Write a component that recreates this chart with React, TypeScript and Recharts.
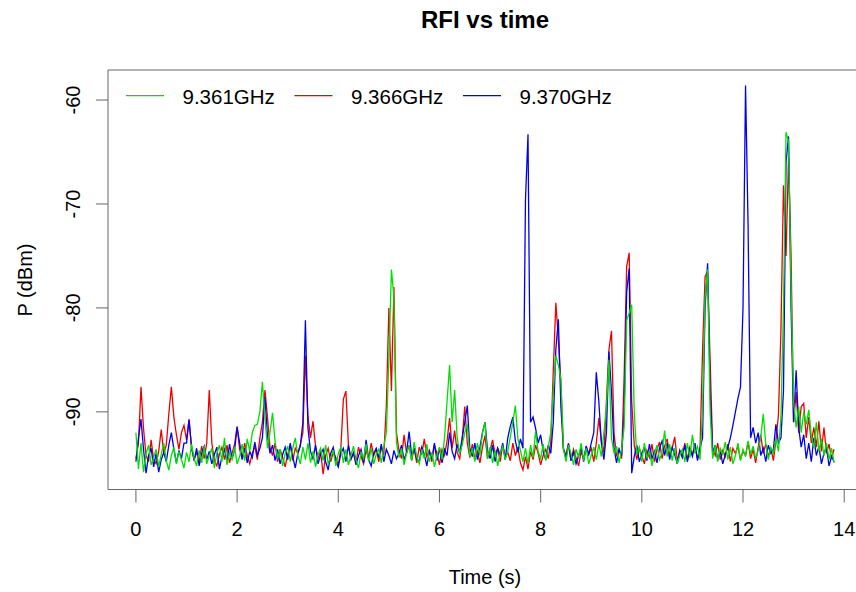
import { LineChart, Line, XAxis, YAxis, ReferenceArea } from 'recharts'

// sampling step of the recording (s)
const STEP = 0.05

// 9.366GHz
const RED = [
  -94.5, -93.0, -87.6, -91.6, -94.2, -94.8, -92.7, -94.6, -95.0, -93.8,
  -91.7, -94.0, -93.2, -90.2, -87.6, -90.5, -92.2, -93.6, -92.0, -91.3,
  -92.7, -90.7, -93.5, -94.6, -93.9, -94.8, -93.3, -94.5, -93.0, -87.9,
  -93.0, -94.7, -95.2, -94.1, -93.4, -94.6, -93.2, -94.9, -94.0, -93.1,
  -91.4, -93.6, -94.5, -93.0, -94.2, -95.0, -94.0, -93.3, -94.6, -92.5,
  -91.0, -87.9, -90.5, -93.4, -94.2, -93.0, -94.8, -93.6, -94.4, -95.3,
  -94.1, -93.2, -94.7, -93.5, -94.0, -93.1, -92.0, -84.6, -90.4, -92.5,
  -90.9, -93.3, -94.5, -93.8, -96.0, -94.2, -93.5, -94.8, -93.9, -94.4,
  -95.1, -93.6, -88.8, -88.0, -93.2, -94.6, -94.0, -94.9, -93.4, -94.3,
  -95.0, -93.7, -94.5, -93.0, -94.2, -93.6, -94.8, -93.3, -94.1, -89.4,
  -80.0, -88.0, -78.0, -92.0, -93.8, -94.5, -92.2, -94.0, -93.2, -94.7,
  -93.5, -94.9, -93.4, -94.1, -92.6, -94.3, -93.7, -94.8, -93.2, -94.0,
  -95.1, -93.6, -94.2, -92.8, -90.6, -93.5, -91.8, -93.9, -94.5, -92.6,
  -89.5, -93.0, -94.4, -93.1, -94.6, -93.8, -94.9, -93.4, -92.3, -94.5,
  -93.7, -92.7, -94.1, -93.5, -94.8, -93.2, -94.4, -93.9, -94.7, -93.0,
  -94.2, -93.4, -94.9, -95.6, -94.3, -95.5, -93.8, -94.6, -93.2, -94.0,
  -95.1, -94.2, -93.6, -94.5, -93.0, -86.0, -79.5, -83.0, -87.3, -93.5,
  -94.2, -93.0, -94.7, -93.6, -94.4, -95.2, -93.8, -94.5, -93.4, -94.1,
  -93.5, -94.8, -93.0, -90.6, -92.8, -93.9, -89.0, -84.0, -82.2, -92.0,
  -94.3, -93.6, -94.5, -86.6, -76.0, -74.7, -89.0, -93.2, -94.6, -93.5,
  -94.2, -95.0, -93.7, -94.4, -93.1, -94.8, -93.6, -92.9, -94.5, -93.3,
  -92.6, -94.2, -93.5, -92.4, -94.7, -93.8, -94.3, -93.0, -94.6, -93.4,
  -94.1, -93.2, -94.5, -93.6, -84.1, -77.0, -76.5, -85.0, -93.5, -94.2,
  -93.0, -94.6, -93.7, -94.3, -93.1, -94.8, -93.5, -94.0, -93.3, -94.6,
  -93.8, -94.2, -92.9, -94.5, -93.6, -94.9, -93.4, -92.2, -94.0, -93.1,
  -94.3, -93.5, -94.7, -92.8, -90.3, -82.1, -68.2, -75.0, -65.5, -75.0,
  -91.0, -88.1, -92.0, -89.5, -89.2, -92.5, -90.5, -93.0, -91.5, -93.4,
  -90.9, -93.8, -91.5, -94.0, -93.1, -94.5, -93.6,
]

// 9.370GHz
const BLUE = [
  -94.8, -92.5, -90.7, -93.6, -95.9, -94.2, -93.5, -95.3, -94.0, -95.8,
  -94.6, -93.9, -94.8, -93.2, -92.0, -93.6, -94.9, -93.7, -94.5, -93.0,
  -93.0, -90.8, -93.4, -94.7, -93.5, -95.2, -94.0, -93.3, -94.6, -93.8,
  -95.0, -94.1, -93.4, -95.5, -94.3, -93.6, -94.8, -93.1, -94.5, -93.7,
  -91.5, -93.0, -94.6, -93.5, -94.9, -93.8, -94.4, -92.9, -94.2, -93.5,
  -92.5, -88.6, -92.3, -94.0, -93.2, -94.7, -93.6, -95.0, -94.1, -93.4,
  -94.6, -93.0, -94.3, -95.4, -94.0, -93.3, -91.0, -81.2, -91.5, -93.8,
  -94.5, -93.2, -95.0, -94.1, -93.6, -94.8, -95.6, -94.0, -93.4, -94.7,
  -95.3, -94.0, -93.5, -94.8, -93.2, -94.5, -93.9, -95.1, -94.2, -93.6,
  -94.9, -92.7, -94.6, -95.2, -94.0, -93.5, -94.4, -93.1, -94.8, -93.6,
  -94.2, -95.0, -93.7, -94.5, -94.0, -93.2, -94.6, -93.9, -91.9, -94.2,
  -93.6, -94.5, -94.8, -93.4, -94.1, -95.2, -93.8, -94.5, -93.0, -94.7,
  -93.5, -94.9, -93.6, -94.2, -92.0, -93.8, -94.5, -93.1, -94.0, -92.5,
  -91.0, -89.4, -93.5, -94.3, -93.0, -94.6, -93.4, -92.0, -91.0, -93.7,
  -94.5, -93.2, -94.8, -93.5, -94.1, -93.0, -94.6, -92.5, -91.4, -90.5,
  -92.8, -93.9, -92.6, -93.5, -69.6, -63.3, -91.0, -90.5, -91.6, -93.0,
  -92.2, -93.8, -94.6, -93.2, -94.0, -91.0, -84.0, -81.1, -89.5, -93.6,
  -94.4, -93.1, -94.7, -93.9, -95.0, -94.2, -93.5, -94.8, -93.3, -94.1,
  -93.0, -92.0, -86.2, -89.0, -93.0, -94.6, -92.0, -84.2, -88.0, -93.5,
  -94.9, -93.6, -94.2, -90.0, -78.5, -76.2, -95.9, -94.3, -93.2, -94.8,
  -94.0, -93.4, -94.7, -93.1, -94.5, -93.8, -94.9, -93.5, -92.8, -94.2,
  -93.0, -94.6, -93.4, -94.1, -95.0, -93.7, -94.4, -93.2, -94.8, -93.6,
  -94.3, -93.0, -94.7, -93.5, -92.5, -80.0, -75.7, -88.0, -94.0, -93.2,
  -94.6, -93.8, -95.0, -94.1, -93.4, -92.5, -91.3, -90.0, -88.7, -87.6,
  -80.0, -58.6, -72.0, -92.5, -91.5, -93.0, -92.0, -94.2, -93.5, -94.8,
  -93.2, -94.0, -93.6, -91.2, -93.0, -92.5, -88.0, -66.0, -63.5, -80.0,
  -91.0, -86.0, -91.5, -93.4, -92.2, -94.5, -93.0, -94.8, -92.5, -94.2,
  -93.3, -95.0, -94.0, -93.4, -95.2, -94.3, -94.8,
]

// 9.361GHz
const GREEN = [
  -92.0, -95.5, -93.0, -95.8, -94.0, -93.2, -95.1, -94.4, -93.6, -95.3,
  -94.1, -93.0, -94.7, -95.6, -94.2, -93.4, -95.0, -93.8, -94.6, -95.4,
  -93.9, -94.8, -93.1, -94.5, -95.2, -93.7, -94.9, -93.3, -95.0, -94.2,
  -93.5, -95.4, -94.0, -93.2, -94.8, -92.5, -95.1, -93.9, -94.6, -93.4,
  -95.0, -94.3, -93.1, -94.7, -92.6, -93.8, -92.0, -91.3, -91.2, -90.0,
  -87.1, -90.5, -93.5, -92.0, -90.1, -92.8, -94.5, -93.6, -95.2, -94.0,
  -93.3, -94.8, -93.5, -92.5, -94.2, -95.0, -93.4, -94.6, -93.0, -94.9,
  -93.8, -95.3, -94.1, -93.5, -94.7, -93.2, -95.0, -94.4, -93.7, -95.2,
  -94.0, -93.4, -94.9, -93.6, -95.1, -94.2, -93.3, -94.6, -95.4, -93.9,
  -94.5, -93.1, -94.8, -93.5, -95.0, -94.1, -93.6, -94.9, -93.3, -92.0,
  -85.0, -76.3, -79.0, -93.0, -94.4, -93.5, -95.1, -94.0, -93.2, -94.7,
  -92.9, -94.3, -95.0, -93.6, -94.5, -93.1, -94.8, -93.9, -95.3, -94.2,
  -93.4, -94.6, -92.5, -89.0, -85.5, -91.0, -87.9, -92.5, -94.0, -93.2,
  -92.0, -91.2, -94.3, -93.5, -94.8, -93.0, -94.2, -92.0, -91.0, -94.5,
  -93.4, -94.9, -93.7, -95.2, -94.0, -93.3, -94.6, -93.8, -92.4, -91.0,
  -89.4, -92.6, -93.7, -94.8, -93.5, -95.0, -93.2, -94.4, -91.9, -93.8,
  -94.5, -93.1, -94.7, -93.4, -92.0, -88.0, -84.6, -85.5, -86.8, -93.5,
  -94.8, -93.2, -94.0, -95.1, -93.6, -94.4, -93.0, -94.7, -93.5, -95.0,
  -94.2, -93.4, -94.6, -93.1, -94.3, -92.0, -89.6, -85.0, -92.5, -94.0,
  -93.3, -94.9, -93.6, -91.5, -81.2, -80.5, -79.7, -90.0, -94.1, -93.4,
  -94.8, -93.0, -94.5, -93.7, -95.2, -94.0, -93.2, -94.6, -93.9, -91.8,
  -94.3, -93.1, -94.7, -93.5, -95.0, -94.2, -93.6, -94.8, -93.0, -94.4,
  -92.2, -94.0, -93.3, -94.6, -90.0, -79.0, -76.3, -90.0, -94.5, -93.2,
  -94.8, -93.5, -94.1, -92.9, -94.6, -93.4, -95.0, -94.2, -93.0, -94.7,
  -93.6, -94.3, -92.8, -94.1, -93.3, -94.5, -93.7, -92.5, -90.2, -93.1,
  -94.6, -93.4, -94.0, -92.6, -93.8, -90.5, -80.0, -63.1, -64.0, -78.0,
  -89.0, -91.5, -89.5, -92.0, -90.0, -91.2, -89.8, -92.3, -93.5, -91.0,
  -93.8, -92.6, -94.2, -93.0, -94.6, -93.5, -94.9,
]

const X_TICKS = [0, 2, 4, 6, 8, 10, 12, 14]
const Y_TICKS = [-90, -80, -70, -60]
const X_DOMAIN = [-0.552, 14.352]
const Y_DOMAIN = [-97.47, -57.11]

// legend order (drawing order is red, blue, green)
const SERIES = [
  { key: 'green', name: '9.361GHz', color: '#00e000' },
  { key: 'red', name: '9.366GHz', color: '#ee0000' },
  { key: 'blue', name: '9.370GHz', color: '#0000ee' },
]
const DRAW_ORDER = ['red', 'blue', 'green']

const FONT = '"Liberation Sans", Arial, Helvetica, sans-serif'
const AXIS_GREY = '#666'

const rows = RED.map((r, i) => ({
  t: +(i * STEP).toFixed(2),
  red: r,
  blue: BLUE[i],
  green: GREEN[i],
}))

const XTick = ({ x, y, payload }: any) => (
  <text x={x} y={y} dy={33.5} textAnchor="middle" fontSize={20} fontFamily={FONT} fill="#000">
    {payload.value}
  </text>
)

const YTick = ({ x, y, payload }: any) => (
  <text
    x={x}
    y={y}
    dy={-16}
    textAnchor="middle"
    fontSize={20}
    fontFamily={FONT}
    fill="#000"
    transform={`rotate(-90 ${x} ${y})`}
  >
    {payload.value}
  </text>
)

// legend in the top-left corner of the box, no frame (like bty="n")
const RLegend = () => (
  <g transform="translate(120, 80)">
    {SERIES.map((s, i) => (
      <g key={s.key} transform={`translate(${i * 168.5}, 0)`}>
        <line x1={6} x2={44} y1={15.7} y2={15.7} stroke={s.color} strokeWidth={1.3} />
        <text x={62.5} y={24} fontSize={20.5} fontFamily={FONT} fill="#000">
          {s.name}
        </text>
      </g>
    ))}
  </g>
)

export default function App() {
  return (
    <div
      style={{
        position: 'absolute',
        left: 0,
        top: 0,
        width: 856,
        height: 592,
        overflow: 'hidden',
        background: '#fff',
      }}
    >
      <LineChart width={864} height={592} data={rows} margin={{ top: 70, right: 2, bottom: 0, left: 0 }}>
        <XAxis
          dataKey="t"
          type="number"
          domain={X_DOMAIN}
          ticks={X_TICKS}
          allowDataOverflow
          axisLine={false}
          tickSize={13}
          tickMargin={0}
          tickLine={{ stroke: AXIS_GREY }}
          tick={<XTick />}
          height={102.5}
          interval={0}
        />
        <YAxis
          type="number"
          domain={Y_DOMAIN}
          ticks={Y_TICKS}
          allowDataOverflow
          axisLine={false}
          tickSize={12}
          tickMargin={0}
          tickLine={{ stroke: AXIS_GREY }}
          tick={<YTick />}
          width={108}
          interval={0}
        />
        <ReferenceArea
          x1={X_DOMAIN[0]}
          x2={X_DOMAIN[1]}
          y1={Y_DOMAIN[0]}
          y2={Y_DOMAIN[1]}
          fill="none"
          stroke={AXIS_GREY}
          strokeWidth={1}
          ifOverflow="visible"
        />
        {DRAW_ORDER.map((k) => {
          const s = SERIES.find((d) => d.key === k)!
          return (
            <Line
              key={k}
              dataKey={k}
              name={s.name}
              type="linear"
              stroke={s.color}
              strokeWidth={1.3}
              dot={false}
              activeDot={false}
              isAnimationActive={false}
            />
          )
        })}
      </LineChart>
      <svg
        width={856}
        height={592}
        style={{ position: 'absolute', left: 0, top: 0, pointerEvents: 'none' }}
      >
        <RLegend />
        <text x={485} y={28} textAnchor="middle" fontSize={24} fontWeight="bold" fontFamily={FONT} fill="#000">
          RFI vs time
        </text>
        <text x={485} y={584} textAnchor="middle" fontSize={20} fontFamily={FONT} fill="#000">
          Time (s)
        </text>
        <text
          x={32}
          y={280}
          textAnchor="middle"
          fontSize={20}
          fontFamily={FONT}
          fill="#000"
          transform="rotate(-90 32 280)"
        >
          P (dBm)
        </text>
      </svg>
    </div>
  )
}
